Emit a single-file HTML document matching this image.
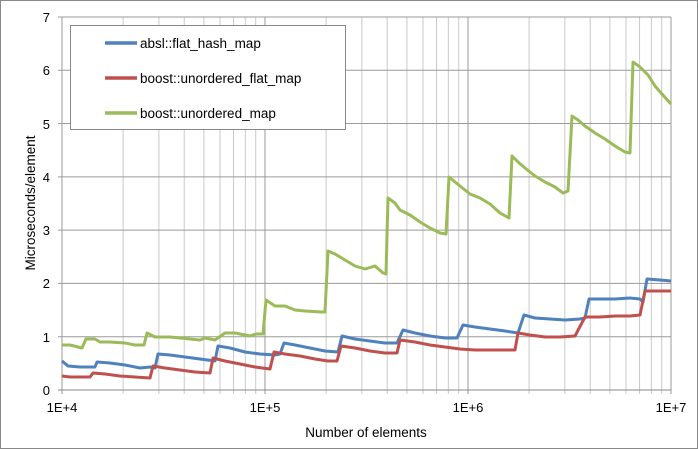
<!DOCTYPE html>
<html><head><style>body{margin:0;background:#fff}svg{display:block;font-family:"Liberation Sans",sans-serif}</style></head><body>
<svg width="698" height="449" viewBox="0 0 698 449">
<rect x="0.5" y="0.5" width="697" height="448" fill="#fff" stroke="#888"/>
<g id="grid"></g>
<g font-size="13" fill="#000" text-anchor="end">
<text x="50" y="395">0</text><text x="50" y="342">1</text><text x="50" y="288">2</text><text x="50" y="235">3</text><text x="50" y="182">4</text><text x="50" y="129">5</text><text x="50" y="75">6</text><text x="50" y="22">7</text>
</g>
<g font-size="13" fill="#000" text-anchor="middle">
<text x="62" y="412">1E+4</text><text x="265" y="412">1E+5</text><text x="468" y="412">1E+6</text><text x="671" y="412">1E+7</text>
<text x="366" y="437" font-size="13.5">Number of elements</text>
<text transform="translate(35,203) rotate(-90)" font-size="13.5">Microseconds/element</text>
</g>
<g fill="none" stroke-width="3" stroke-linejoin="round">
<polyline stroke="#9BBB59" points="62,345 70,345 82,348 86,339 95,339 100,342 110,342 125,343 135,345 144,345 147,333 155,337 170,337 190,339 200,340 205,338 215,340 225,333 235,333 250,336 256,334 263,334 266,300 275,306 285,306 295,310 305,311 322,312 325,312 328,251 335,254 345,260 355,266 365,269 375,266 383,273 386,274 388,198 395,203 400,210 410,215 420,222 430,228 440,233 446,234 449,177 455,182 460,186 470,194 480,198 490,204 500,213 509,218 512,156 518,162 525,168 535,176 545,182 555,187 563,193 568,191 572,116 578,120 585,126 595,133 605,139 615,146 625,152 630,153 633,62 640,67 648,75 655,86 662,94 671,104"/>
<polyline stroke="#4F81BD" points="62,361 68,366 80,367 95,367 97,362 110,363 125,365 140,368 150,367 155,368 158,354 170,355 185,357 200,359 215,361 218,346 230,348 245,352 260,354 275,355 280,354 284,343 295,345 310,348 325,351 338,352 342,336 355,339 370,341 385,343 397,343 403,330 415,333 430,336 445,338 457,338 463,325 475,327 490,329 505,331 518,333 524,315 535,318 550,319 565,320 580,319 585,318 589,299 600,299 615,299 630,298 640,299 643,302 647,279 660,280 671,281"/>
<polyline stroke="#C0504D" points="62,376 70,377 85,377 90,377 93,373 105,374 120,376 135,377 150,378 153,366 165,368 180,370 195,372 210,373 213,358 225,361 240,364 255,367 270,369 274,352 285,354 300,356 315,359 328,361 337,361 341,346 355,348 370,351 385,353 397,353 400,340 415,342 430,345 445,347 460,349 475,350 500,350 515,350 518,333 530,335 545,337 560,337 575,336 585,317 600,317 615,316 630,316 640,315 645,291 660,291 671,291"/>
</g>
<rect x="70.5" y="25.5" width="275" height="104" fill="#fff" stroke="#888"/>
<g stroke-width="3.5"><line x1="105" y1="43" x2="137" y2="43" stroke="#4F81BD"/><line x1="105" y1="78" x2="137" y2="78" stroke="#C0504D"/><line x1="105" y1="113" x2="137" y2="113" stroke="#9BBB59"/></g>
<g font-size="13.5" fill="#000"><text x="140" y="48">absl::flat_hash_map</text><text x="140" y="83">boost::unordered_flat_map</text><text x="140" y="118">boost::unordered_map</text></g>
</svg>
<script>
var g=document.getElementById('grid'),s='';
for(var d=0;d<3;d++)for(var k=2;k<=9;k++){var x=62+203*(d+Math.log10(k));s+='<line x1="'+x+'" y1="17" x2="'+x+'" y2="394" stroke="#c8c8c8"/>';}
for(var i=1;i<=7;i++){var y=390-i*53.29;s+='<line x1="58" y1="'+y+'" x2="671" y2="'+y+'" stroke="#9a9a9a"/>';}
for(var d=0;d<=3;d++){var x=62+203*d;s+='<line x1="'+x+'" y1="17" x2="'+x+'" y2="394" stroke="#9a9a9a"/>';}
s+='<line x1="58" y1="390" x2="671" y2="390" stroke="#888"/>';
g.innerHTML=s;
</script>
</body></html>
